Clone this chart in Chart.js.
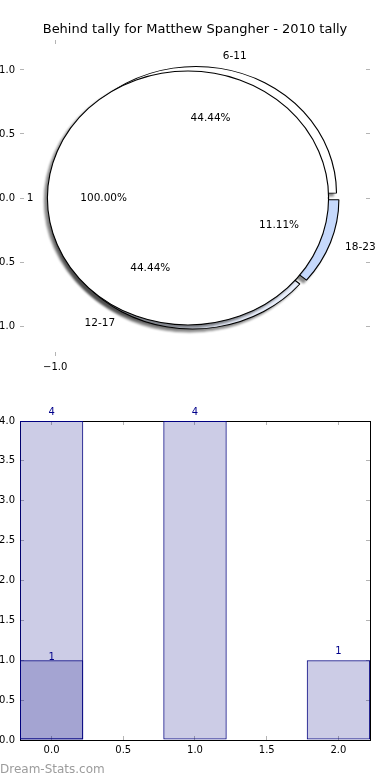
<!DOCTYPE html>
<html>
<head>
<meta charset="utf-8">
<script src="https://cdn.jsdelivr.net/npm/chart.js@4.4.1/dist/chart.umd.min.js"></script>
<style>
  html, body { margin: 0; padding: 0; background: #fff; }
  body { width: 390px; height: 780px; position: relative; overflow: hidden; }
  canvas { position: absolute; }
  .shadowed { filter: drop-shadow(-3px 3px 1px rgba(0,0,0,0.45)); }
  #watermark { position: absolute; left: 0; top: 762px; font: 12px "DejaVu Sans", sans-serif; color: #9c9c9c; }
</style>
</head>
<body>
<canvas id="pieBehind" class="shadowed" width="390" height="390" style="left:0;top:0"></canvas>
<canvas id="pieTotal" class="shadowed" width="390" height="390" style="left:0;top:0"></canvas>
<canvas id="pieAxes" width="414" height="390" style="left:-12px;top:0"></canvas>
<canvas id="bars" width="414" height="390" style="left:-12px;top:390px"></canvas>
<div id="watermark">Dream-Stats.com</div>
<script>
const titleText = "Behind tally for Matthew Spangher - 2010 tally";

// Pie: tally buckets (matplotlib order, counter-clockwise from 3 o'clock)
const sliceLabels = ["6-11", "12-17", "18-23"];
const sliceValues = [4, 4, 1];
const sliceColors = ["#ffffff", "#e8eefb", "#c6d9fc"];
const totalLabels = ["1"];
const totalValues = [1];
const pieXTicks = [-1];
const pieYTicks = [-1, -0.5, 0, 0.5, 1];

// Bars
const barX = [0, 1, 2];
const barAll = [4, 4, 1];
const barSub = [1, 0, 0];
const barXTicks = [0, 0.5, 1, 1.5, 2];
const barYTicks = [0, 0.5, 1, 1.5, 2, 2.5, 3, 3.5, 4];

Chart.defaults.font.family = '"DejaVu Sans", sans-serif';
Chart.defaults.font.size = 10;
Chart.defaults.color = "#000";

const fmt = (v) => Number(v).toFixed(1).replace("-", "\u2212");
const fixedTicks = (list) => (s) => { s.ticks = list.map((v) => ({ value: v })); };
const noPlugins = { legend: { display: false }, tooltip: { enabled: false } };

// tick marks only, drawn inwards like matplotlib
function tickScale(position, min, max, list, size, labels, border) {
  return {
    type: "linear",
    position: position,
    min: min,
    max: max,
    offset: false,
    afterBuildTicks: fixedTicks(list),
    afterFit: (s) => {
      if (position === "left" || position === "right") s.width = size;
      else s.height = size;
    },
    grid: { drawOnChartArea: false, tickLength: -4, color: "#b4b4b4", offset: false },
    border: border ? { display: true, color: "#000", width: 1 } : { display: false },
    ticks: { display: labels, padding: 9, callback: fmt, maxRotation: 0, autoSkip: false },
  };
}

// ---- pies ----
const pieR = 127;
const sx = 140.6 / pieR; // axes are not equal-aspect, pie comes out as an ellipse

const ellipse = {
  id: "ellipse",
  beforeDatasetsDraw(chart) {
    const ctx = chart.ctx;
    const cx = chart.getDatasetMeta(0).data[0].x;
    ctx.save();
    ctx.translate(cx, 0);
    ctx.scale(sx, 1);
    ctx.translate(-cx, 0);
  },
  afterDatasetsDraw(chart) {
    chart.ctx.restore();
  },
};

// Chart.js goes clockwise, so feed the slices reversed
const cwLabels = sliceLabels.slice().reverse();
const cwValues = sliceValues.slice().reverse();
const cwColors = sliceColors.slice().reverse();

const behindChart = new Chart(document.getElementById("pieBehind"), {
  type: "pie",
  data: {
    labels: cwLabels,
    datasets: [{
      data: cwValues,
      backgroundColor: cwColors,
      borderColor: "#000",
      borderWidth: 1,
      offset: 18.4,
    }],
  },
  options: {
    responsive: false,
    animation: false,
    events: [],
    radius: 124,
    rotation: 90,
    layout: { padding: { top: 6 } },
    plugins: noPlugins,
  },
  plugins: [ellipse],
});

const totalChart = new Chart(document.getElementById("pieTotal"), {
  type: "pie",
  data: {
    labels: totalLabels,
    datasets: [{
      data: totalValues,
      backgroundColor: "#ffffff",
      borderColor: "#000",
      borderWidth: 1,
      // stroke only the rim: the dash covers the outer arc, the gap hides the radial edge
      borderDash: [2 * Math.PI * pieR + 0.5, 4 * pieR],
    }],
  },
  options: {
    responsive: false,
    animation: false,
    events: [],
    radius: pieR,
    rotation: 90,
    layout: { padding: { top: 6, right: 14 } },
    plugins: noPlugins,
  },
  plugins: [ellipse],
});

function drawSliceText(chart, ctx, names) {
  const meta = chart.getDatasetMeta(0);
  const values = chart.data.datasets[0].data;
  const total = values.reduce((a, b) => a + b, 0);
  meta.data.forEach((arc, i) => {
    const h = (arc.startAngle + arc.endAngle) / 2;
    const t = (arc.options.offset || 0) / 4;
    const c = Math.cos(h), s = Math.sin(h);
    const cx = arc.x + c * t * sx;
    const cy = arc.y + s * t;
    ctx.textAlign = c > 0 ? "left" : "right";
    ctx.fillText(names[i], cx + c * 1.1 * pieR * sx, cy + s * 1.1 * pieR);
    ctx.textAlign = "center";
    ctx.fillText((100 * values[i] / total).toFixed(2) + "%", cx + c * 0.6 * pieR * sx, cy + s * 0.6 * pieR);
  });
}

// ---- pie axes, title and slice text (on top of the pies) ----
new Chart(document.getElementById("pieAxes"), {
  type: "scatter",
  data: { datasets: [] },
  options: {
    responsive: false,
    animation: false,
    events: [],
    layout: { padding: 0 },
    plugins: {
      legend: { display: false },
      tooltip: { enabled: false },
      title: {
        display: true,
        text: titleText,
        color: "#000",
        font: { size: 13, weight: "normal" },
        padding: { top: 22, bottom: 2.4 },
      },
    },
    scales: {
      x: tickScale("bottom", -1.25, 1.24, pieXTicks, 34, true, false),
      x2: tickScale("top", -1.25, 1.24, pieXTicks, 0, false, false),
      y: tickScale("left", -1.234, 1.234, pieYTicks, 32, true, false),
      y2: tickScale("right", -1.234, 1.234, pieYTicks, 32, false, false),
    },
  },
  plugins: [{
    id: "sliceText",
    afterDraw(chart) {
      const ctx = chart.ctx;
      ctx.save();
      ctx.translate(12, 0); // this canvas sits 12px left of the pie canvases
      ctx.font = '10.5px "DejaVu Sans", sans-serif';
      ctx.fillStyle = "#000";
      ctx.textBaseline = "middle";
      drawSliceText(behindChart, ctx, cwLabels);
      drawSliceText(totalChart, ctx, totalLabels);
      ctx.restore();
    },
  }],
});

// ---- bars ----
const labelLift = [9, 2.5];
const barStyle = {
  backgroundColor: "rgba(0,0,128,0.2)",
  borderColor: "#000080",
  borderWidth: 1,
  borderSkipped: false,
  grouped: false,
  barPercentage: 0.884, // 0.44 wide in x units (min spacing is the 0.5 tick step)
  categoryPercentage: 1,
};

new Chart(document.getElementById("bars"), {
  type: "bar",
  data: {
    datasets: [
      Object.assign({ data: barX.map((x, i) => ({ x: x, y: barAll[i] })) }, barStyle),
      Object.assign({ data: barX.map((x, i) => ({ x: x, y: barSub[i] })) }, barStyle),
    ],
  },
  options: {
    responsive: false,
    animation: false,
    events: [],
    layout: { padding: { top: 31 } },
    plugins: noPlugins,
    scales: {
      x: Object.assign(tickScale("bottom", -0.22, 2.22, barXTicks, 40, true, true), { ticks: { padding: 8, callback: fmt, maxRotation: 0, autoSkip: false } }),
      x2: tickScale("top", -0.22, 2.22, barXTicks, 0, false, true),
      y: tickScale("left", 0, 4, barYTicks, 32, true, true),
      y2: tickScale("right", 0, 4, barYTicks, 32, false, true),
    },
  },
  plugins: [{
    id: "barValueText",
    afterDraw(chart) {
      const ctx = chart.ctx;
      ctx.save();
      ctx.font = '10px "DejaVu Sans", sans-serif';
      ctx.fillStyle = "#00008b";
      ctx.textAlign = "center";
      ctx.textBaseline = "middle";
      chart.data.datasets.forEach((ds, d) => {
        chart.getDatasetMeta(d).data.forEach((bar, i) => {
          const v = ds.data[i].y;
          if (!v) return;
          ctx.fillText(String(v), bar.x, bar.y - labelLift[d]);
        });
      });
      ctx.restore();
    },
  }],
});
</script>
</body>
</html>
